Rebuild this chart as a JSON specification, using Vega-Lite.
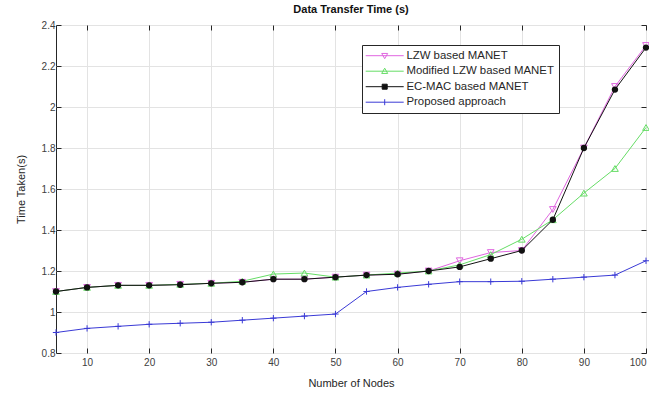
{
  "$schema": "https://vega.github.io/schema/vega-lite/v6.json",
  "autosize": {"type": "none"},
  "width": 590,
  "height": 328,
  "padding": {"left": 56, "top": 25, "right": 3, "bottom": 44},
  "title": {"text": "Data Transfer Time (s)", "fontSize": 11, "fontWeight": "bold", "color": "#111111", "offset": 5},
  "config": {
    "font": "Liberation Sans",
    "view": {"stroke": "#262626", "strokeWidth": 1},
    "axis": {
      "domain": false,
      "tickSize": -5,
      "tickColor": "#262626",
      "gridColor": "#e3e3e3",
      "gridOpacity": 1,
      "labelFont": "Liberation Sans",
      "labelFontSize": 10,
      "labelColor": "#404040",
      "titleFont": "Liberation Sans",
      "titleFontSize": 11,
      "titleFontWeight": "normal",
      "titleColor": "#262626"
    },
    "legend": {
      "orient": "none",
      "legendX": 306,
      "legendY": 20,
      "strokeColor": "#262626",
      "fillColor": "white",
      "padding": 5,
      "labelFont": "Liberation Sans",
      "labelFontSize": 11.4,
      "labelColor": "#262626",
      "rowPadding": 2.5,
      "symbolSize": 100,
      "symbolOffset": 12,
      "labelOffset": 16,
      "symbolStrokeWidth": 1
    }
  },
  "data": {"values": [
    {"n": 5, "series": "LZW based MANET", "t": 1.10},
    {"n": 10, "series": "LZW based MANET", "t": 1.12},
    {"n": 15, "series": "LZW based MANET", "t": 1.13},
    {"n": 20, "series": "LZW based MANET", "t": 1.13},
    {"n": 25, "series": "LZW based MANET", "t": 1.135},
    {"n": 30, "series": "LZW based MANET", "t": 1.14},
    {"n": 35, "series": "LZW based MANET", "t": 1.145},
    {"n": 40, "series": "LZW based MANET", "t": 1.16},
    {"n": 45, "series": "LZW based MANET", "t": 1.16},
    {"n": 50, "series": "LZW based MANET", "t": 1.17},
    {"n": 55, "series": "LZW based MANET", "t": 1.18},
    {"n": 60, "series": "LZW based MANET", "t": 1.185},
    {"n": 65, "series": "LZW based MANET", "t": 1.20},
    {"n": 70, "series": "LZW based MANET", "t": 1.25},
    {"n": 75, "series": "LZW based MANET", "t": 1.29},
    {"n": 80, "series": "LZW based MANET", "t": 1.30},
    {"n": 85, "series": "LZW based MANET", "t": 1.50},
    {"n": 90, "series": "LZW based MANET", "t": 1.80},
    {"n": 95, "series": "LZW based MANET", "t": 2.10},
    {"n": 100, "series": "LZW based MANET", "t": 2.30},
    {"n": 5, "series": "Modified LZW based MANET", "t": 1.10},
    {"n": 10, "series": "Modified LZW based MANET", "t": 1.12},
    {"n": 15, "series": "Modified LZW based MANET", "t": 1.13},
    {"n": 20, "series": "Modified LZW based MANET", "t": 1.13},
    {"n": 25, "series": "Modified LZW based MANET", "t": 1.135},
    {"n": 30, "series": "Modified LZW based MANET", "t": 1.14},
    {"n": 35, "series": "Modified LZW based MANET", "t": 1.15},
    {"n": 40, "series": "Modified LZW based MANET", "t": 1.185},
    {"n": 45, "series": "Modified LZW based MANET", "t": 1.19},
    {"n": 50, "series": "Modified LZW based MANET", "t": 1.17},
    {"n": 55, "series": "Modified LZW based MANET", "t": 1.18},
    {"n": 60, "series": "Modified LZW based MANET", "t": 1.19},
    {"n": 65, "series": "Modified LZW based MANET", "t": 1.20},
    {"n": 70, "series": "Modified LZW based MANET", "t": 1.23},
    {"n": 75, "series": "Modified LZW based MANET", "t": 1.28},
    {"n": 80, "series": "Modified LZW based MANET", "t": 1.355},
    {"n": 85, "series": "Modified LZW based MANET", "t": 1.45},
    {"n": 90, "series": "Modified LZW based MANET", "t": 1.58},
    {"n": 95, "series": "Modified LZW based MANET", "t": 1.70},
    {"n": 100, "series": "Modified LZW based MANET", "t": 1.90},
    {"n": 5, "series": "EC-MAC based MANET", "t": 1.10},
    {"n": 10, "series": "EC-MAC based MANET", "t": 1.12},
    {"n": 15, "series": "EC-MAC based MANET", "t": 1.13},
    {"n": 20, "series": "EC-MAC based MANET", "t": 1.13},
    {"n": 25, "series": "EC-MAC based MANET", "t": 1.133},
    {"n": 30, "series": "EC-MAC based MANET", "t": 1.14},
    {"n": 35, "series": "EC-MAC based MANET", "t": 1.145},
    {"n": 40, "series": "EC-MAC based MANET", "t": 1.16},
    {"n": 45, "series": "EC-MAC based MANET", "t": 1.16},
    {"n": 50, "series": "EC-MAC based MANET", "t": 1.17},
    {"n": 55, "series": "EC-MAC based MANET", "t": 1.18},
    {"n": 60, "series": "EC-MAC based MANET", "t": 1.184},
    {"n": 65, "series": "EC-MAC based MANET", "t": 1.20},
    {"n": 70, "series": "EC-MAC based MANET", "t": 1.22},
    {"n": 75, "series": "EC-MAC based MANET", "t": 1.26},
    {"n": 80, "series": "EC-MAC based MANET", "t": 1.30},
    {"n": 85, "series": "EC-MAC based MANET", "t": 1.45},
    {"n": 90, "series": "EC-MAC based MANET", "t": 1.80},
    {"n": 95, "series": "EC-MAC based MANET", "t": 2.085},
    {"n": 100, "series": "EC-MAC based MANET", "t": 2.29},
    {"n": 5, "series": "Proposed approach", "t": 0.90},
    {"n": 10, "series": "Proposed approach", "t": 0.92},
    {"n": 15, "series": "Proposed approach", "t": 0.93},
    {"n": 20, "series": "Proposed approach", "t": 0.94},
    {"n": 25, "series": "Proposed approach", "t": 0.945},
    {"n": 30, "series": "Proposed approach", "t": 0.95},
    {"n": 35, "series": "Proposed approach", "t": 0.96},
    {"n": 40, "series": "Proposed approach", "t": 0.97},
    {"n": 45, "series": "Proposed approach", "t": 0.98},
    {"n": 50, "series": "Proposed approach", "t": 0.99},
    {"n": 55, "series": "Proposed approach", "t": 1.10},
    {"n": 60, "series": "Proposed approach", "t": 1.12},
    {"n": 65, "series": "Proposed approach", "t": 1.135},
    {"n": 70, "series": "Proposed approach", "t": 1.148},
    {"n": 75, "series": "Proposed approach", "t": 1.148},
    {"n": 80, "series": "Proposed approach", "t": 1.15},
    {"n": 85, "series": "Proposed approach", "t": 1.16},
    {"n": 90, "series": "Proposed approach", "t": 1.17},
    {"n": 95, "series": "Proposed approach", "t": 1.18},
    {"n": 100, "series": "Proposed approach", "t": 1.25}
  ]},
  "layer": [
    {
      "encoding": {
        "x": {"field": "n", "type": "quantitative", "scale": {"domain": [5, 100], "nice": false, "zero": false},
              "axis": {"values": [10, 20, 30, 40, 50, 60, 70, 80, 90, 100], "title": "Number of Nodes", "titlePadding": 10, "labelPadding": 9}},
        "y": {"field": "t", "type": "quantitative", "scale": {"domain": [0.8, 2.4], "nice": false, "zero": false},
              "axis": {"values": [0.8, 1, 1.2, 1.4, 1.6, 1.8, 2, 2.2, 2.4], "format": "~g", "title": "Time Taken(s)", "titlePadding": 15, "labelPadding": 6}},
        "color": {"field": "series", "type": "nominal",
          "scale": {"domain": ["LZW based MANET", "Modified LZW based MANET", "EC-MAC based MANET", "Proposed approach"],
                    "range": ["#e066e0", "#66dd66", "#111111", "#3a3ad6"]},
          "legend": {
            "title": null,
            "encode": {"symbols": {"update": {
              "shape": {"signal": "datum.value === 'LZW based MANET' ? 'M-3.8,0H3.8M-0.6,-0.45L0.6,-0.45M0.6,-0.45L0,0.6M0,0.6L-0.6,-0.45' : datum.value === 'Modified LZW based MANET' ? 'M-3.8,0H3.8M-0.6,0.45L0.6,0.45M0.6,0.45L0,-0.6M0,-0.6L-0.6,0.45' : datum.value === 'EC-MAC based MANET' ? 'M-3.8,0H3.8M-0.5,-0.5H0.5V0.5H-0.5Z' : 'M-3.8,0H3.8M0,-0.6V0.6'"},
              "strokeWidth": {"value": 1}
            }}}
          }}
      },
      "layer": [
        {"transform": [{"filter": "datum.series === 'LZW based MANET'"}],
         "mark": {"type": "line", "strokeWidth": 1, "point": {"shape": "triangle-down", "filled": false, "size": 45, "strokeWidth": 1}}},
        {"transform": [{"filter": "datum.series === 'Modified LZW based MANET'"}],
         "mark": {"type": "line", "strokeWidth": 1, "point": {"shape": "triangle-up", "filled": false, "size": 45, "strokeWidth": 1}}},
        {"transform": [{"filter": "datum.series === 'EC-MAC based MANET'"}],
         "mark": {"type": "line", "strokeWidth": 1, "point": {"shape": "circle", "filled": true, "size": 40}}},
        {"transform": [{"filter": "datum.series === 'Proposed approach'"}],
         "mark": {"type": "line", "strokeWidth": 1, "point": {"shape": "M-1,0H1M0,-1V1", "filled": false, "size": 40, "strokeWidth": 1}}}
      ]
    },
    {
      "mark": {"type": "point", "opacity": 0},
      "encoding": {
        "x": {"field": "n", "type": "quantitative", "axis": {"orient": "top", "values": [10, 20, 30, 40, 50, 60, 70, 80, 90, 100], "labels": false, "grid": false, "title": null}},
        "y": {"field": "t", "type": "quantitative", "axis": {"orient": "right", "values": [0.8, 1, 1.2, 1.4, 1.6, 1.8, 2, 2.2, 2.4], "labels": false, "grid": false, "title": null}}
      }
    }
  ],
  "resolve": {"axis": {"x": "independent", "y": "independent"}}
}
